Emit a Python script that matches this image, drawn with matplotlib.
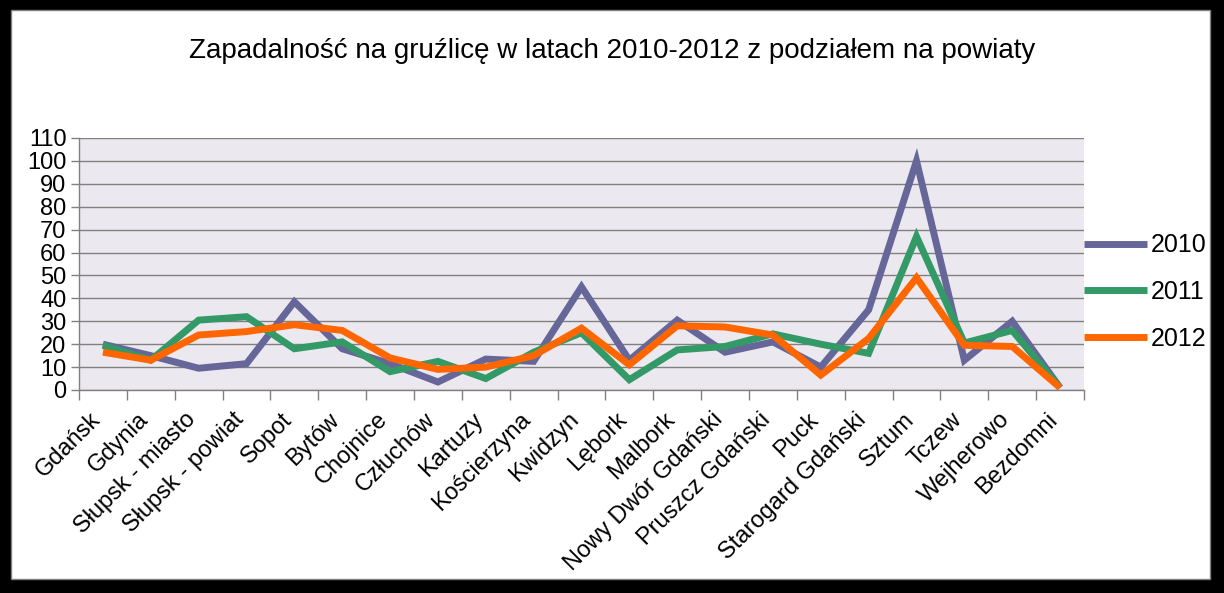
import numpy as np
import matplotlib
matplotlib.use('Agg')
import matplotlib.pyplot as plt
import matplotlib.transforms as mtransforms
from matplotlib.patches import Rectangle

plt.rcParams['font.family'] = ['Liberation Sans', 'DejaVu Sans']

# Zapadalność per powiat
powiaty = ['Gdańsk', 'Gdynia', 'Słupsk - miasto', 'Słupsk - powiat', 'Sopot', 'Bytów',
           'Chojnice', 'Człuchów', 'Kartuzy', 'Kościerzyna', 'Kwidzyn', 'Lębork',
           'Malbork', 'Nowy Dwór Gdański', 'Pruszcz Gdański', 'Puck',
           'Starogard Gdański', 'Sztum', 'Tczew', 'Wejherowo', 'Bezdomni']
y2010 = [20, 15, 9.5, 11.5, 38.5, 18, 11.5, 3.5, 13.5, 12.5, 45, 13, 30.5, 16.5, 21, 10, 35, 100, 13, 30, 1]
y2011 = [19.5, 13, 30.5, 32, 18, 21, 8, 12.5, 5, 16.5, 25, 4.5, 17.5, 19, 24.5, 20, 16, 67, 20.5, 26, 1]
y2012 = [16.5, 13, 24, 25.5, 28.5, 26, 14, 9, 10, 15, 27, 11, 28, 27.5, 24, 6.5, 22.5, 49, 19.5, 19, 1]
years = ['2010', '2011', '2012']
colors = ['#666699', '#339966', '#FF6600']

W, H = 1224, 593
fig = plt.figure(figsize=(W / 100, H / 100), dpi=100, facecolor='black')

# white chart area with thin gray edge inside the black frame
fig.patches.append(Rectangle((11 / W, 1 - 579 / H), (1210 - 11) / W, (579 - 10) / H,
                             transform=fig.transFigure, facecolor='white',
                             edgecolor='#808080', linewidth=1, zorder=-5))

ax = fig.add_axes([79 / W, 1 - 390 / H, (1084 - 79) / W, (390 - 138) / H], zorder=2)
ax.set_facecolor('#EBE9EF')

x = np.arange(len(powiaty))
for vals, lab, c in zip([y2010, y2011, y2012], years, colors):
    ax.plot(x, vals, color=c, linewidth=5, label=lab, solid_joinstyle='miter',
            solid_capstyle='butt')

ax.set_xlim(-0.5, len(powiaty) - 0.5)
ax.set_ylim(0, 110)
ax.set_yticks(range(0, 111, 10))
ax.grid(True, axis='y', color='#808080', linewidth=1)
ax.set_axisbelow(True)

for s in ['top', 'right']:
    ax.spines[s].set_visible(False)
for s in ['left', 'bottom']:
    ax.spines[s].set_color('#808080')
    ax.spines[s].set_linewidth(1)

ax.tick_params(axis='y', colors='#808080', length=6, width=1, labelsize=17,
               labelcolor='black', pad=3)
ax.set_xticks(x)
ax.set_xticks(np.arange(-0.5, len(powiaty), 1), minor=True)
ax.tick_params(axis='x', which='major', length=0, labelsize=17, pad=19)
ax.tick_params(axis='x', which='minor', colors='#808080', length=7, width=1)
ax.set_xticklabels(powiaty)
offset = mtransforms.ScaledTranslation(-6 / 100, 0, fig.dpi_scale_trans)
for t in ax.get_xticklabels():
    t.set_rotation(45)
    t.set_ha('right')
    t.set_va('center')
    t.set_rotation_mode('anchor')
    t.set_transform(t.get_transform() + offset)

fig.text(612 / W, 1 - 51 / H, 'Zapadalność na gruźlicę w latach 2010-2012 z podziałem na powiaty',
         ha='center', va='center', fontsize=20)

fig.legend(loc='center left', bbox_to_anchor=(1084 / W, 1 - 292 / H), frameon=False,
           fontsize=18, handlelength=2.5, handletextpad=0.15, labelspacing=0.9,
           borderpad=0, borderaxespad=0)

fig.savefig('out.png', dpi=100, facecolor='black')
